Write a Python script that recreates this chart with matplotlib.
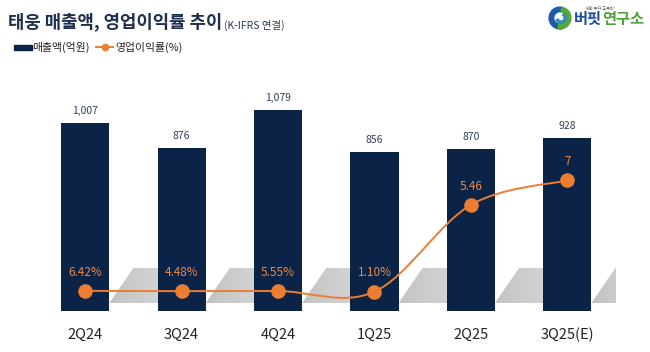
import numpy as np
import matplotlib
matplotlib.use("Agg")
import matplotlib.pyplot as plt
from matplotlib.path import Path
from matplotlib.patches import PathPatch, Polygon, Rectangle, Wedge
from matplotlib.lines import Line2D
from matplotlib.colors import LinearSegmentedColormap

plt.rcParams["font.family"] = ["Noto Sans CJK KR", "DejaVu Sans"]

quarters = ["2Q24", "3Q24", "4Q24", "1Q25", "2Q25", "3Q25(E)"]
sales = [1007, 876, 1079, 856, 870, 928]
sales_labels = ["1,007", "876", "1,079", "856", "870", "928"]
# the source chart plots the first four margins as fractions, the last two as numbers
margin_plot = [0.0642, 0.0448, 0.0555, 0.011, 5.46, 7]
margin_labels = ["6.42%", "4.48%", "5.55%", "1.10%", "5.46", "7"]

navy = "#0a2347"
orange = "#ed7d31"
label_orange = "#e9894a"

W, H = 650, 352
fig = plt.figure(figsize=(6.5, 3.52), dpi=100)
fig.patch.set_facecolor("white")
renderer = fig.canvas.get_renderer()

# axes: x from 37 to 615 px, y from 80 to 311 px (top-down)
ax = fig.add_axes([37 / W, (H - 311) / H, (615.5 - 37) / W, (311 - 80) / H])
x = np.arange(len(quarters))

# soft shadows behind bars
shade = LinearSegmentedColormap.from_list("shade", ["#c3c3c3", "#dadada"])
grad = np.linspace(0, 1, 64).reshape(1, -1)
sh_lo, sh_hi = 43, 231
for i in x:
    verts = [(i + 0.25, sh_lo), (i + 0.5, sh_hi), (i + 1.0, sh_hi), (i + 1.0, sh_lo)]
    poly = Polygon(verts, closed=True, facecolor="none", edgecolor="none")
    ax.add_patch(poly)
    im = ax.imshow(grad, cmap=shade, aspect="auto", extent=[i + 0.25, i + 1.0, sh_lo, sh_hi],
                   zorder=1, interpolation="bilinear")
    im.set_clip_path(poly)

ax.set_xlim(-0.5, len(quarters) - 0.5)
ax.set_ylim(0, 1240)

ax.bar(x, sales, width=0.5, color=navy, zorder=2)
for i, (v, lab) in enumerate(zip(sales, sales_labels)):
    ax.annotate(lab, (i, v), xytext=(0, 5), textcoords="offset points",
                ha="center", va="bottom", fontsize=7.5, color="#2f3f5c",
                fontweight="medium")

ax.set_xticks(x)
ax.set_xticklabels(quarters, fontsize=10.5, color="#222222", fontweight="medium")
ax.tick_params(axis="x", length=0, pad=12)
ax.set_yticks([])
for s in ax.spines.values():
    s.set_visible(False)

# margin line on its own axis
ax2 = ax.twinx()
ax2.set_ylim(-1.2, 13.3)
ax2.set_yticks([])
for s in ax2.spines.values():
    s.set_visible(False)

# smooth line (Catmull-Rom -> cubic Bezier)
pts = np.column_stack([x, margin_plot]).astype(float)
verts = [tuple(pts[0])]
codes = [Path.MOVETO]
n = len(pts)
for i in range(n - 1):
    p0 = pts[i - 1] if i > 0 else pts[i]
    p1 = pts[i]
    p2 = pts[i + 1]
    p3 = pts[i + 2] if i + 2 < n else pts[i + 1]
    c1 = p1 + (p2 - p0) / 6
    c2 = p2 - (p3 - p1) / 6
    verts += [tuple(c1), tuple(c2), tuple(p2)]
    codes += [Path.CURVE4] * 3
ax2.add_patch(PathPatch(Path(verts, codes), facecolor="none", edgecolor=orange,
                        lw=1.4, zorder=3))
ax2.plot(x, margin_plot, ls="none", marker="o", ms=9.5, color=orange, zorder=4)
for i, (v, lab) in enumerate(zip(margin_plot, margin_labels)):
    ax2.annotate(lab, (i, v), xytext=(0, 13.5), textcoords="offset points",
                 ha="center", va="center", fontsize=8.5, color=label_orange)

# title
title = fig.text(8 / W, 1 - 22 / H, "태웅 매출액, 영업이익률 추이", fontsize=12.8,
                 fontweight="heavy", color="#1c2f4f", va="center", ha="left")
tx1 = title.get_window_extent(renderer).x1
fig.text((tx1 + 2) / W, 1 - 25 / H, "(K-IFRS 연결)", fontsize=7.5, color="#2b3a55",
         va="center", ha="left")

# legend
fig.patches.append(Rectangle((14 / W, 1 - 49.5 / H), 18 / W, 5 / H, color=navy,
                             transform=fig.transFigure, figure=fig))
fig.text(32 / W, 1 - 47 / H, "매출액(억원)", fontsize=7.8, color="#222222",
         va="center", ha="left")
fig.lines.append(Line2D([96 / W, 113 / W], [1 - 47 / H, 1 - 47 / H], color=orange,
                        lw=1.4, transform=fig.transFigure, figure=fig))
fig.lines.append(Line2D([104.5 / W], [1 - 47 / H], color=orange, marker="o", ms=4.5,
                        transform=fig.transFigure, figure=fig))
fig.text(115 / W, 1 - 47 / H, "영업이익률(%)", fontsize=7.8, color="#222222",
         va="center", ha="left")

# logo
lax = fig.add_axes([548 / W, 1 - 30 / H, 24 / W, 24 / H])
lax.set_xlim(-1.1, 1.1)
lax.set_ylim(-1.1, 1.1)
lax.set_aspect("equal")
lax.axis("off")
lax.add_patch(Wedge((0, 0), 1, 80, 280, width=0.42, color="#1f5aa8"))
lax.add_patch(Wedge((0, 0), 1, -100, 80, width=0.42, color="#5aa832"))
lax.add_patch(Wedge((0.1, 0), 0.5, 200, 60, width=0.22, color="#2e8fb0"))
fig.text(585 / W, 1 - 8 / H, "개인 투자 도우미", fontsize=3, color="#555555",
         va="center", ha="left")
buf = fig.text(574 / W, 1 - 19 / H, "버핏", fontsize=11, fontweight="heavy",
               color="#1f4e9c", va="center", ha="left")
bx1 = buf.get_window_extent(renderer).x1
fig.text(bx1 / W, 1 - 19 / H, "연구소", fontsize=11, fontweight="bold",
         color="#4ca335", va="center", ha="left")

fig.savefig("out.png", dpi=100)
